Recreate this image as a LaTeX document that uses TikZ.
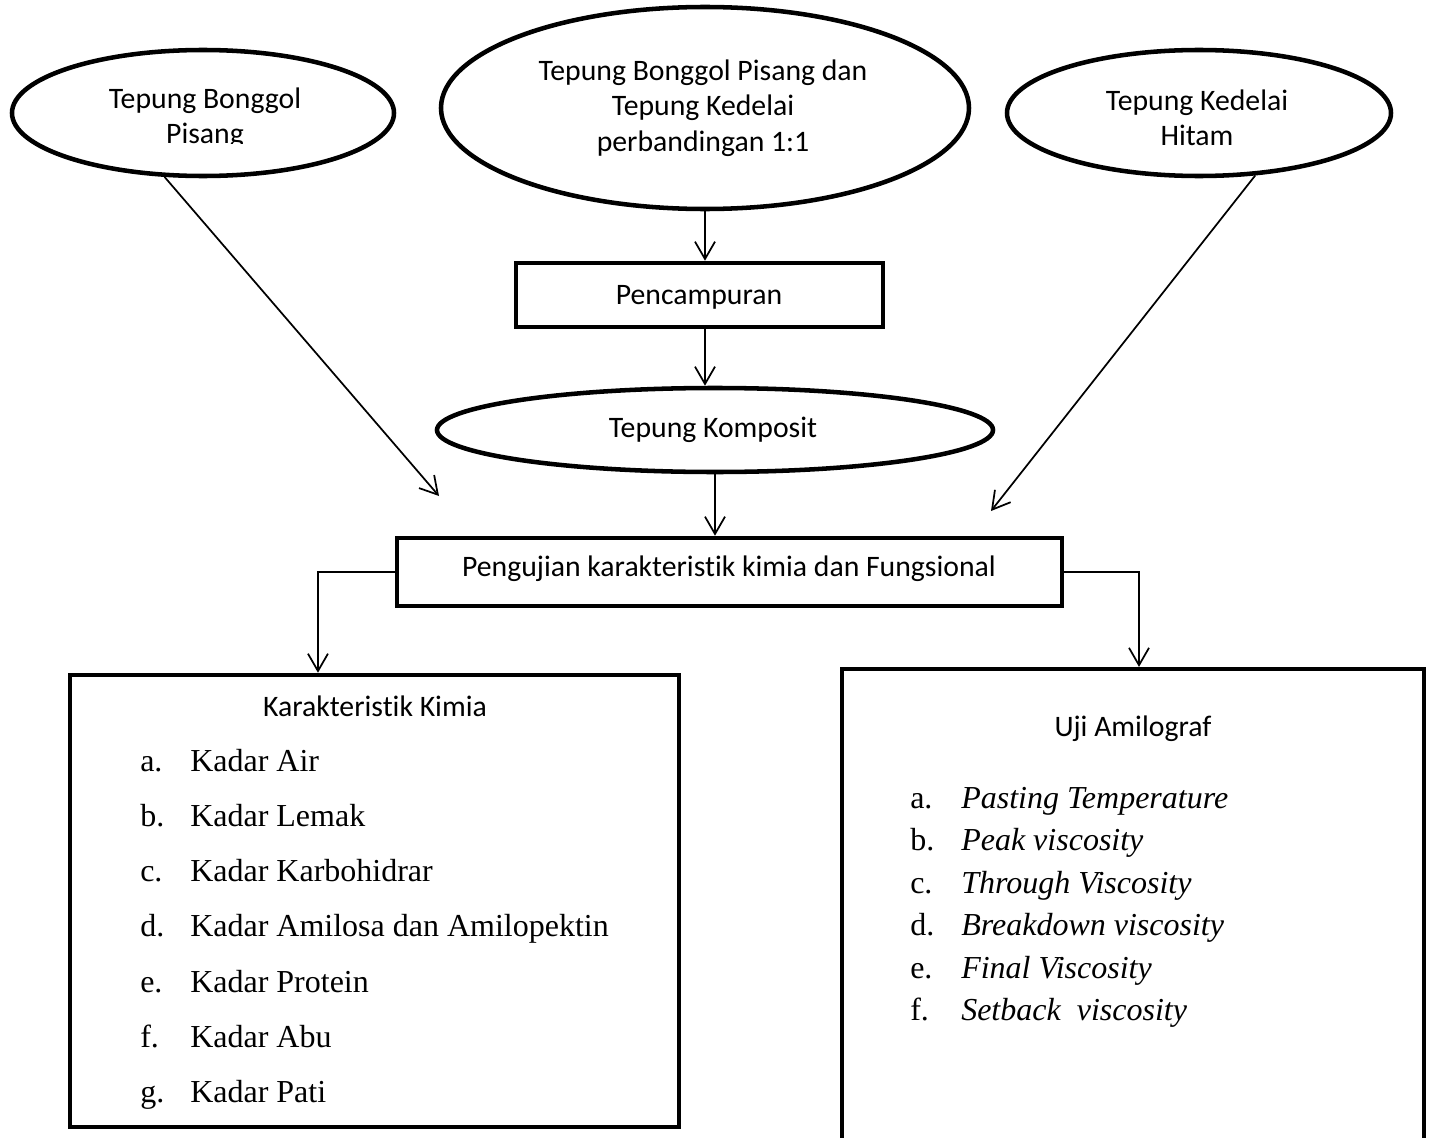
\documentclass[tikz,border=0pt]{standalone}
\usepackage{fontspec}
\setmainfont{Liberation Serif}
\newfontfamily\calib[Ligatures=NoCommon]{Carlito}
\usetikzlibrary{shapes.geometric,arrows.meta}
\begin{document}
\begin{tikzpicture}[x=0.75pt,y=-0.75pt,
  oval/.style={draw,line width=3.4pt,ellipse,inner sep=0pt},
  box/.style={draw,line width=3.4pt,rectangle,inner sep=0pt},
  lbl/.style={font=\calib\fontsize{22.3}{26.6}\selectfont,align=center,inner sep=0pt},
  arr/.style={line width=1.3pt,-{Straight Barb[length=13pt,width=15pt]}},
  item/.style={anchor=base west,inner sep=0pt,font=\fontsize{24}{28}\selectfont},
  iitem/.style={anchor=base west,inner sep=0pt,font=\fontsize{24}{28}\selectfont\itshape}]
\useasboundingbox[fill=white] (0,0) rectangle (1429,1138);

% top ovals
\node[oval,minimum width=286.5pt,minimum height=94.5pt] (e1) at (203,113) {};
\begin{scope}
\clip (0,0) rectangle (1429,144);
\node[lbl] (e1t) at (205,118) {Tepung Bonggol\\Pisang};
\end{scope}
\node[oval,minimum width=396pt,minimum height=151.5pt] (e2) at (705,108) {};
\node[lbl] (e2t) at (703,108) {Tepung Bonggol Pisang dan\\Tepung Kedelai\\perbandingan 1:1};
\node[oval,minimum width=288pt,minimum height=94.5pt] (e3) at (1199,113) {};
\node[lbl] (e3t) at (1197,118) {Tepung Kedelai\\Hitam};

% middle
\node[box,minimum width=275pt,minimum height=48pt] (mix) at (699.5,295) {};
\node[lbl] (mixt) at (699,297) {Pencampuran};
\node[oval,minimum width=417pt,minimum height=63pt] (komp) at (715,430) {};
\node[lbl] (kompt) at (713,430) {Tepung Komposit};
\node[box,minimum width=499pt,minimum height=51pt] (peng) at (729.5,572) {};
\node[lbl] (pengt) at (729,569) {Pengujian karakteristik kimia dan Fungsional};

% bottom boxes
\node[box,minimum width=457pt,minimum height=339pt] (kimia) at (374.5,901) {};
\node[lbl] (kimiat) at (375,706) {Karakteristik Kimia};
\node[box,minimum width=436.5pt,minimum height=368pt] (amil) at (1133,914.5) {};
\node[lbl] (amilt) at (1133,729) {Uji Amilograf};

% left list
\node[item] (la) at (140,771) {a.};  \node[item] (ta) at (190,771) {Kadar Air};
\node[item] (lb) at (140,826.3) {b.};  \node[item] (tb) at (190,826.3) {Kadar Lemak};
\node[item] (lc) at (140,881.6) {c.};  \node[item] (tc) at (190,881.6) {Kadar Karbohidrar};
\node[item] (ld) at (140,936.9) {d.};  \node[item] (td) at (190,936.9) {Kadar Amilosa dan Amilopektin};
\node[item] (le) at (140,992.2) {e.};  \node[item] (te) at (190,992.2) {Kadar Protein};
\node[item] (lf) at (140,1047.5) {f.};  \node[item] (tf) at (190,1047.5) {Kadar Abu};
\node[item] (lg) at (140,1102.8) {g.};  \node[item] (tg) at (190,1102.8) {Kadar Pati};

% right list
\node[item] (ra) at (910,808.5) {a.};  \node[iitem] (sa) at (961,808.5) {Pasting Temperature};
\node[item] (rb) at (910,850.9) {b.};  \node[iitem] (sb) at (961,850.9) {Peak viscosity};
\node[item] (rc) at (910,893.3) {c.};  \node[iitem] (sc) at (961,893.3) {Through Viscosity};
\node[item] (rd) at (910,935.7) {d.};  \node[iitem] (sd) at (961,935.7) {Breakdown viscosity};
\node[item] (re) at (910,978.1) {e.};  \node[iitem] (se) at (961,978.1) {Final Viscosity};
\node[item] (rf) at (910,1020.5) {f.};  \node[iitem] (sf) at (961,1020.5) {Setback\ \ viscosity};

% connectors
\coordinate (t1) at (439,496);
\coordinate (t3) at (991,511);
\draw[arr] (e1.-121) -- (t1);
\draw[arr] (e3.-48) -- (t3);
\draw[arr] (e2.south) -- (e2.south |- mix.north);
\draw[arr] (e2.south |- mix.south) -- (e2.south |- komp.north);
\draw[arr] (komp.south) -- (komp.south |- peng.north);
\draw[arr] (peng.west) -| ([xshift=-42.4pt]kimia.north);
\draw[arr] (peng.east) -| ([xshift=4.5pt]amil.north);
\end{tikzpicture}
\end{document}
